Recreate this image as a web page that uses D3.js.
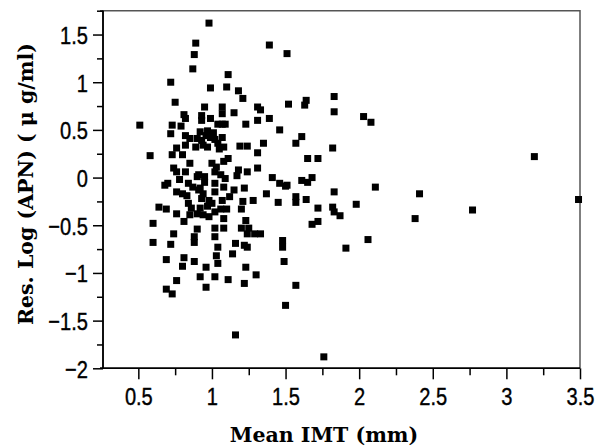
<!DOCTYPE html>
<html><head><meta charset="utf-8">
<script src="https://cdn.jsdelivr.net/npm/d3@7"></script>
<style>body{margin:0;background:#fff}svg{display:block}</style>
</head><body><svg id="c" width="595" height="447"></svg>
<script>
const xValues = [0.98,0.89,0.88,0.87,0.72,0.75,0.81,0.82,0.51,0.73,1.39,1.51,1.11,0.99,1.10,1.18,1.21,0.95,1.07,1.07,1.15,1.31,1.33,1.52,0.93,0.93,0.99,1.04,1.09,1.23,1.31,1.39,
1.83,1.64,1.63,1.83,2.03,2.08,1.61,1.57,1.82,1.65,1.72,2.11,1.61,1.68,1.65,1.51,1.57,1.57,1.64,1.83,1.72,1.82,1.83,1.87,1.98,1.68,1.72,2.06,1.91,1.48,1.48,1.49,1.57,1.50,1.76,
3.19,3.49,2.77,2.41,2.38,
0.60,0.72,0.88,0.69,0.81,0.80,0.88,0.92,0.76,0.69,0.73,
1.04,1.16,1.22,1.24,1.03,1.04,1.14,0.96,1.23,1.30,1.02,1.11,1.22,0.96,1.16,
0.72,0.79,0.82,0.85,0.90,0.76,0.82,0.73,0.80,0.89,0.58,0.85,0.74,0.76,0.82,0.90,0.68,0.70,0.84,0.76,0.80,0.83,0.91,0.64,0.69,0.76,0.84,0.86,0.85,0.81,0.90,0.60,0.74,0.90,0.88,
1.07,1.46,0.92,0.97,0.93,0.99,1.04,0.97,1.08,1.19,1.24,1.35,1.31,1.11,1.08,1.00,1.03,1.02,1.06,1.09,1.18,1.17,1.24,1.31,0.91,0.95,1.41,1.46,1.50,1.02,1.08,0.92,0.94,0.93,1.02,1.15,1.22,1.37,1.45,1.28,1.21,1.20,1.07,0.98,1.00,0.92,0.94,0.98,1.02,1.06,1.10,1.08,1.23,1.02,1.08,1.02,1.20,1.25,1.24,1.29,1.33,1.01,1.07,
0.96,1.02,0.94,1.05,0.87,0.78,0.95,0.97,1.12];
const yValues = [1.62,1.41,1.29,1.14,1.00,0.79,0.66,0.62,0.55,0.55,1.39,1.30,1.08,0.94,0.95,0.91,0.83,0.74,0.74,0.67,0.68,0.74,0.71,0.77,0.65,0.60,0.62,0.56,0.56,0.56,0.60,0.62,
0.85,0.81,0.76,0.69,0.64,0.58,0.43,0.36,0.31,0.20,0.20,-0.10,-0.03,0.00,-0.05,-0.08,-0.20,-0.26,-0.23,-0.15,-0.32,-0.31,-0.36,-0.40,-0.28,-0.49,-0.46,-0.65,-0.74,-0.66,-0.73,-0.88,-1.13,-1.34,-1.88,
0.22,-0.23,-0.34,-0.17,-0.43,
-0.68,-0.70,-0.68,-0.86,-0.84,-0.93,-0.88,-1.04,-1.08,-1.17,-1.22,
-0.73,-0.69,-0.71,-0.73,-0.82,-0.90,-0.80,-0.94,-0.94,-1.02,-1.04,-1.07,-1.11,-1.15,-1.65,
0.46,0.54,0.44,0.41,0.41,0.31,0.34,0.24,0.24,0.32,0.23,0.15,0.10,0.06,0.06,0.01,-0.08,-0.06,-0.06,-0.15,-0.17,-0.19,-0.13,-0.31,-0.33,-0.38,-0.27,-0.32,-0.39,-0.46,-0.38,-0.48,-0.59,-0.54,-0.62,
0.56,0.50,0.48,0.49,0.39,0.42,0.36,0.32,0.32,0.33,0.33,0.36,0.26,0.20,0.17,0.15,0.11,0.06,0.03,-0.01,0.08,0.02,0.06,0.10,0.03,0.01,0.00,-0.06,-0.09,-0.06,-0.10,-0.11,-0.17,-0.22,-0.15,-0.13,-0.11,-0.17,-0.26,-0.24,-0.25,-0.33,-0.24,-0.24,-0.27,-0.32,-0.39,-0.41,-0.36,-0.33,-0.33,-0.43,-0.45,-0.53,-0.53,-0.62,-0.53,-0.53,-0.59,-0.59,-0.59,0.47,0.42,
0.44,0.40,0.34,0.30,-0.10,-0.02,-0.05,-0.30,-0.20];
const xTicks = [0.5,1,1.5,2,2.5,3,3.5];
const xMinor = [0.75,1.25,1.75,2.25,2.75,3.25];
const yTicks = [-2,-1.5,-1,-0.5,0,0.5,1,1.5];
const yMinor = [-1.75,-1.25,-0.75,-0.25,0.25,0.75,1.25,1.75];
const xTitle = "Mean IMT (mm)";
const yTitle = "Res. Log (APN) ( \u03bc g/ml)";

const svg = d3.select("#c");
const L=103, R=580, T=10.7, B=368.3;
const x = d3.scaleLinear().domain([0.26,3.5]).range([L,R]);
const y = d3.scaleLinear().domain([-2,1.75]).range([B,T]);
const pts = xValues.map((v,i)=>[v,yValues[i]]);

svg.append("path").attr("d",`M${L-3},${T}H${R}V${B}`).attr("fill","none").attr("stroke","#555").attr("stroke-width",1.5);

const tickFont = "'Liberation Sans', Arial, sans-serif";
const sx = 0.82;
const gx = svg.append("g").attr("transform",`translate(0,${B})`);
gx.call(d3.axisBottom(x).tickValues(xTicks).tickSize(11).tickPadding(8).tickFormat(d3.format("")));
gx.append("g").call(d3.axisBottom(x).tickValues(xMinor).tickSize(7).tickFormat(""));
const gy = svg.append("g").attr("transform",`translate(${L},0)`);
gy.call(d3.axisLeft(y).tickValues(yTicks).tickSize(10).tickPadding(5).tickFormat(d3.format("")));
gy.append("g").call(d3.axisLeft(y).tickValues(yMinor).tickSize(6).tickFormat(""));
svg.selectAll(".domain").attr("stroke","#000").attr("stroke-width",1.5);
svg.selectAll(".tick line").attr("stroke","#000").attr("stroke-width",1.5);
gx.selectAll(".domain").attr("d",`M${L-3},0H${R}`);
gy.selectAll(".domain").attr("d",`M0,${B}V${T}`);
gx.selectAll("text").attr("font-family",tickFont).attr("font-size",24.5).attr("fill","#000")
  .attr("stroke","#000").attr("stroke-width",0.4)
  .attr("transform",`scale(${sx},1)`).attr("y",19).attr("dy","0.71em");
gy.selectAll("text").attr("font-family",tickFont).attr("font-size",24.5).attr("fill","#000")
  .attr("stroke","#000").attr("stroke-width",0.4)
  .attr("transform",`scale(${sx},1)`).attr("x",-15/sx).attr("dy","0.36em");

svg.append("g").selectAll("rect").data(pts).join("rect")
  .attr("x",d=>x(d[0])-3.5).attr("y",d=>y(d[1])-3.5).attr("width",7).attr("height",7).attr("fill","#000");

svg.append("text").attr("x",324).attr("y",442).attr("text-anchor","middle")
  .attr("font-family","'DejaVu Serif', serif").attr("font-weight","bold").attr("font-size",20.5).text(xTitle);
svg.append("text").attr("transform","translate(33,184) rotate(-90)").attr("text-anchor","middle")
  .attr("font-family","'DejaVu Serif', serif").attr("font-weight","bold").attr("font-size",20.5).text(yTitle);
</script></body></html>
